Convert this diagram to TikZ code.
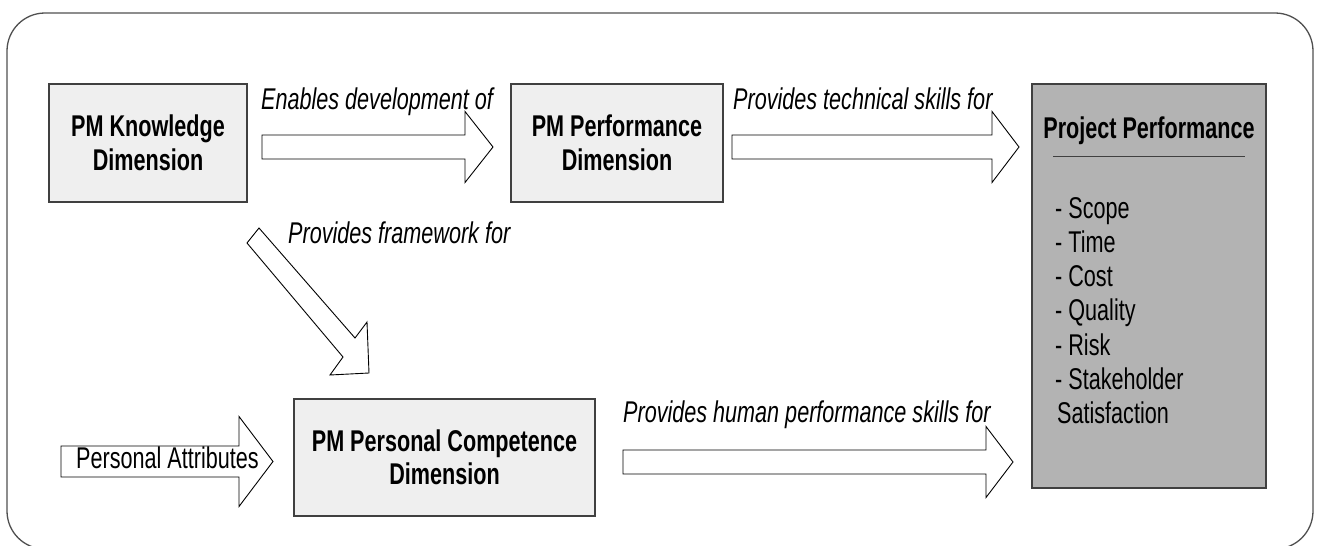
\documentclass[tikz,border=0pt]{standalone}
\usepackage{fontspec}
\setmainfont[FakeStretch=0.72]{Liberation Sans}
\definecolor{boxfill}{HTML}{EFEFEF}
\definecolor{ppfill}{HTML}{B3B3B3}
\definecolor{boxline}{HTML}{404040}
\definecolor{frameline}{HTML}{505050}
\newcommand{\blockarr}[6]{%
  \draw[blockarrow] (#1,#4-#5) -- (#2,#4-#5) -- (#2,#4-#6) -- (#3,#4) -- (#2,#4+#6) -- (#2,#4+#5) -- (#1,#4+#5) -- cycle;}
\begin{document}
\begin{tikzpicture}[x=1pt,y=-1pt,
  frame/.style={draw=frameline,line width=1.3pt,rounded corners=38pt},
  dimbox/.style={draw=boxline,line width=1.3pt,fill=boxfill,inner sep=0pt,align=center,
     font=\fontsize{30}{33.5}\selectfont\bfseries},
  ppbox/.style={draw=boxline,line width=1.3pt,fill=ppfill,inner sep=0pt},
  blockarrow/.style={draw=black,line width=0.9pt,fill=white,line join=miter},
  lbl/.style={anchor=base west,inner sep=0pt,font=\fontsize{30}{34}\selectfont\itshape},
  plain/.style={anchor=base west,inner sep=0pt,font=\fontsize{30}{34}\selectfont},
  ptitle/.style={anchor=base,inner sep=0pt,font=\fontsize{30}{34}\selectfont\bfseries}]
\useasboundingbox (0,0) rectangle (1318,546);
\fill[white] (0,0) rectangle (1318,546);
\draw[frame] (7,13) rectangle (1313,549);

% boxes
\node[dimbox,minimum width=198pt,minimum height=118pt] (know) at (148,143) {PM Knowledge\\Dimension};
\node[dimbox,minimum width=212pt,minimum height=118pt] (perf) at (617,143) {PM Performance\\Dimension};
\node[dimbox,minimum width=301pt,minimum height=117pt] (comp) at (444.5,457.5) {PM Personal Competence\\Dimension};
\node[ppbox,minimum width=234pt,minimum height=404pt] (proj) at (1149,286) {};

% project performance contents
\node[ptitle] (ptitle) at (1149,138) {Project Performance};
\coordinate (rl) at (1053,156);
\coordinate (rr) at (1245,156);
\draw[boxline,line width=1pt] (rl) -- (rr);
\node[plain] (l1) at (1055,218) {- Scope};
\node[plain] (l2) at (1055,252.3) {- Time};
\node[plain] (l3) at (1055,286.6) {- Cost};
\node[plain] (l4) at (1055,320.9) {- Quality};
\node[plain] (l5) at (1055,355.2) {- Risk};
\node[plain] (l6) at (1055,389.5) {- Stakeholder};
\node[plain] (l7) at (1057,423.8) {Satisfaction};

% block arrows
\blockarr{262}{465}{493}{147}{12}{35.5}
\blockarr{732}{992}{1019}{147}{12}{35.5}
\blockarr{61}{239}{273}{461.5}{15.5}{45}
\blockarr{623}{986}{1013}{462}{12}{35.5}
\draw[blockarrow] (259,228) -- (355,338) -- (367,322) -- (369,373) -- (330,375) -- (343,357) -- (247,243) -- cycle;

% labels
\node[lbl] (t1) at (261,109) {Enables development of};
\node[lbl] (t2) at (733,109) {Provides technical skills for};
\node[lbl] (t3) at (288,243) {Provides framework for};
\node[lbl] (t4) at (623,422) {Provides human performance skills for};
\node[plain] (pa) at (76,468) {Personal Attributes};
\end{tikzpicture}
\end{document}
